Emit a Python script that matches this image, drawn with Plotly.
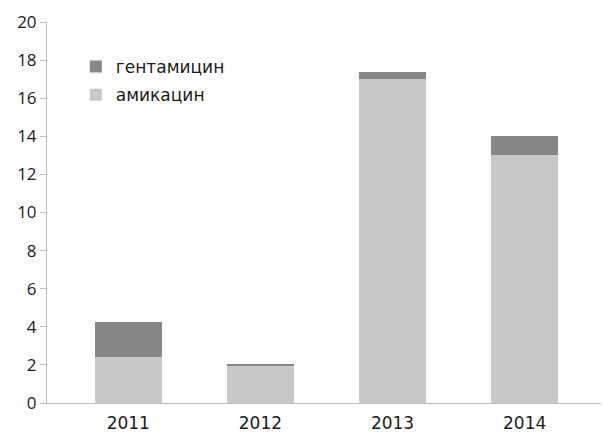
import plotly.graph_objects as go

years = ["2011", "2012", "2013", "2014"]
amikacin = [2.4, 1.95, 17.0, 13.0]
gentamicin = [1.85, 0.1, 0.35, 1.0]
y_ticks = [0, 2, 4, 6, 8, 10, 12, 14, 16, 18, 20]

fig = go.Figure()
fig.add_trace(go.Bar(x=years, y=amikacin, name="амикацин", marker_color="#c8c8c8",
                     marker_line_width=0, legendgroup="a", legendrank=2000))
fig.add_trace(go.Bar(x=years, y=gentamicin, name="гентамицин", marker_color="#878787",
                     marker_line_width=0, legendgroup="g", legendrank=1000))

fig.update_layout(
    width=603, height=436,
    barmode="stack", bargap=0.493,
    plot_bgcolor="white", paper_bgcolor="white",
    margin=dict(l=47, r=2, t=22, b=33, autoexpand=False),
    font=dict(family="DejaVu Sans", size=17, color="#1a1a1a"),
    showlegend=True,
    legend=dict(x=0.052, y=0.929, xanchor="left", yanchor="top",
                traceorder="grouped", tracegroupgap=3,
                font=dict(family="DejaVu Sans", size=17), bgcolor="rgba(0,0,0,0)"),
    xaxis=dict(showline=True, linecolor="#bdbdbd", linewidth=1, ticks="",
               range=[-0.615, 3.578], ticklabelstandoff=5,
               tickfont=dict(family="DejaVu Sans", size=17), showgrid=False),
    yaxis=dict(range=[0, 20], tickvals=y_ticks, showline=True, linecolor="#bdbdbd",
               linewidth=1, ticks="outside", ticklen=6, tickcolor="#bdbdbd",
               showgrid=False, zeroline=False,
               tickfont=dict(family="Open Sans", size=17)),
)

fig.write_html("out.html", config={"displayModeBar": False},
               post_script="document.body.style.margin='0';document.body.style.overflow='hidden';")
